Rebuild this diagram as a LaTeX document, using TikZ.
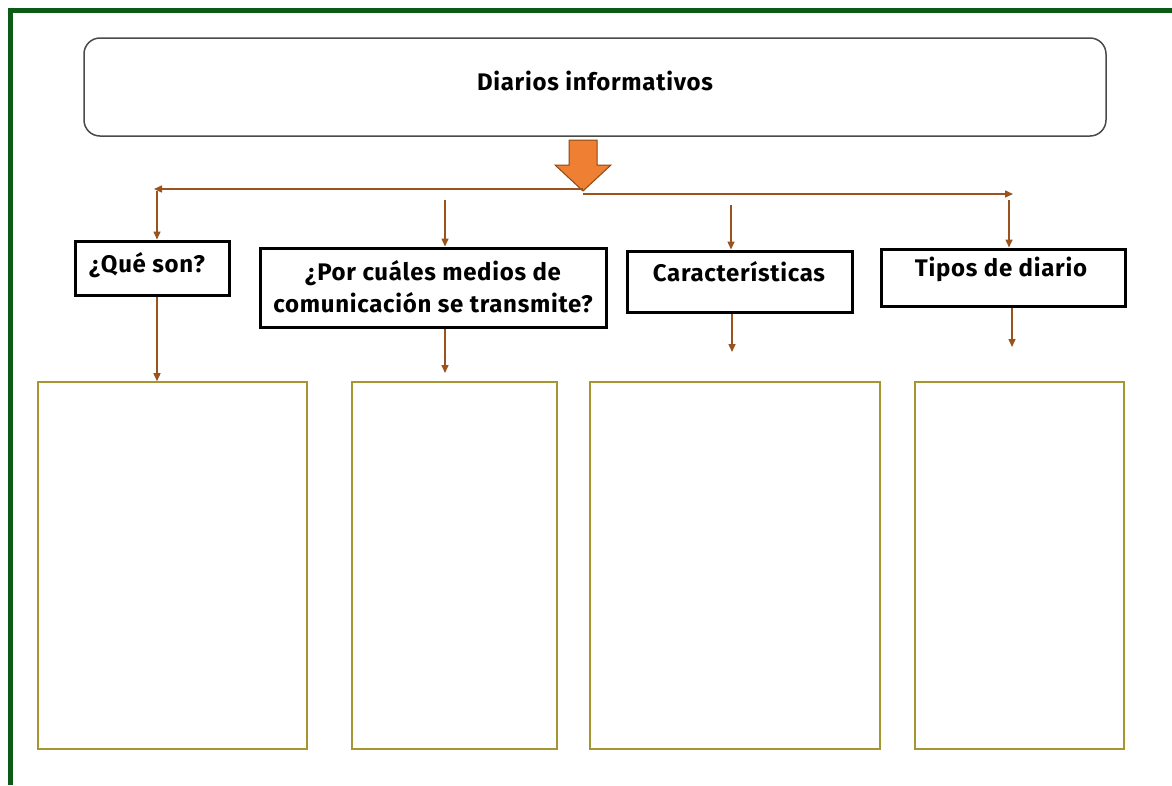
\documentclass[tikz,border=0pt]{standalone}
\usepackage{fontspec}
\setmainfont{Fira Sans}[LetterSpace=3]
\usetikzlibrary{arrows.meta}
\definecolor{frameg}{HTML}{0B5A16}
\definecolor{brownln}{HTML}{9A531C}
\definecolor{orangef}{HTML}{EE7F33}
\definecolor{oranged}{HTML}{8A4A14}
\definecolor{goldb}{HTML}{A69632}
\definecolor{titleb}{HTML}{4A4A4A}
\tikzset{
  titlebox/.style={draw=titleb, line width=1.5pt, rounded corners=16pt, minimum width=1022pt, minimum height=98pt},
  headbox/.style={draw=black, line width=3pt, inner sep=0pt},
  lbl/.style={font=\fontsize{24}{32}\selectfont\bfseries, align=center, inner sep=0pt},
  answerbox/.style={draw=goldb, line width=1.6pt, inner sep=0pt},
  conn/.style={draw=brownln, line width=1.5pt, -{Triangle[length=8pt,width=7pt]}},
  greenframe/.style={draw=frameg, line width=5pt},
}
\begin{document}
\begin{tikzpicture}[x=1pt,y=-1pt]
\useasboundingbox (0,0) rectangle (1172,785);
\fill[white] (0,0) rectangle (1172,785);
% frame
\draw[greenframe] (10,785) -- (10,10) -- (1172,10);
% title
\node[titlebox] (title) at (595,87) {};
\node[lbl] (titletext) at (595,81) {Diarios informativos};
% block arrow
\filldraw[fill=orangef, draw=oranged, line width=1pt]
  (569,140) -- (597,140) -- (597,165) -- (611,165) -- (583,191) -- (555,165) -- (569,165) -- cycle;
\coordinate (tip) at (583,189);
\coordinate (tipr) at (583,194);
\coordinate (lend) at (154,189);
\coordinate (rend) at (1013,194);
\draw[conn] (tip) -- (lend);
\draw[conn] (tipr) -- (rend);
% header boxes
\node[headbox, minimum width=154pt, minimum height=54pt] (q1) at (152,268) {};
\node[lbl] (q1t) at (147,265) {¿Qué son?};
\node[headbox, minimum width=346pt, minimum height=79pt] (q2) at (433,287.5) {};
\node[lbl] (q2t) at (433,287) {¿Por cuáles medios de\\comunicación se transmite?};
\node[headbox, minimum width=225pt, minimum height=61pt] (q3) at (739.5,281.5) {};
\node[lbl] (q3t) at (739,272) {Características};
\node[headbox, minimum width=244pt, minimum height=57pt] (q4) at (1003,277.5) {};
\node[lbl] (q4t) at (1001,269) {Tipos de diario};
% answer boxes
\node[answerbox, minimum width=269pt, minimum height=367pt] (a1) at (172.5,565.5) {};
\node[answerbox, minimum width=205pt, minimum height=367pt] (a2) at (454.5,565.5) {};
\node[answerbox, minimum width=290pt, minimum height=367pt] (a3) at (735,565.5) {};
\node[answerbox, minimum width=209pt, minimum height=367pt] (a4) at (1019.5,565.5) {};
% vertical connectors
\coordinate (d1s) at (157,191);
\coordinate (d2s) at (445,200);
\coordinate (d3s) at (731,205);
\coordinate (d4s) at (1009,200);
\draw[conn] (d1s) -- (157,0 |- q1.north);
\draw[conn] (d2s) -- (445,0 |- q2.north);
\draw[conn] (d3s) -- (731,0 |- q3.north);
\draw[conn] (d4s) -- (1009,0 |- q4.north);
\coordinate (e2) at (445,373);
\coordinate (e3) at (732,352);
\coordinate (e4) at (1012,347);
\draw[conn] (157,0 |- q1.south) -- (157,0 |- a1.north);
\draw[conn] (445,0 |- q2.south) -- (e2);
\draw[conn] (732,0 |- q3.south) -- (e3);
\draw[conn] (1012,0 |- q4.south) -- (e4);
\end{tikzpicture}
\end{document}
